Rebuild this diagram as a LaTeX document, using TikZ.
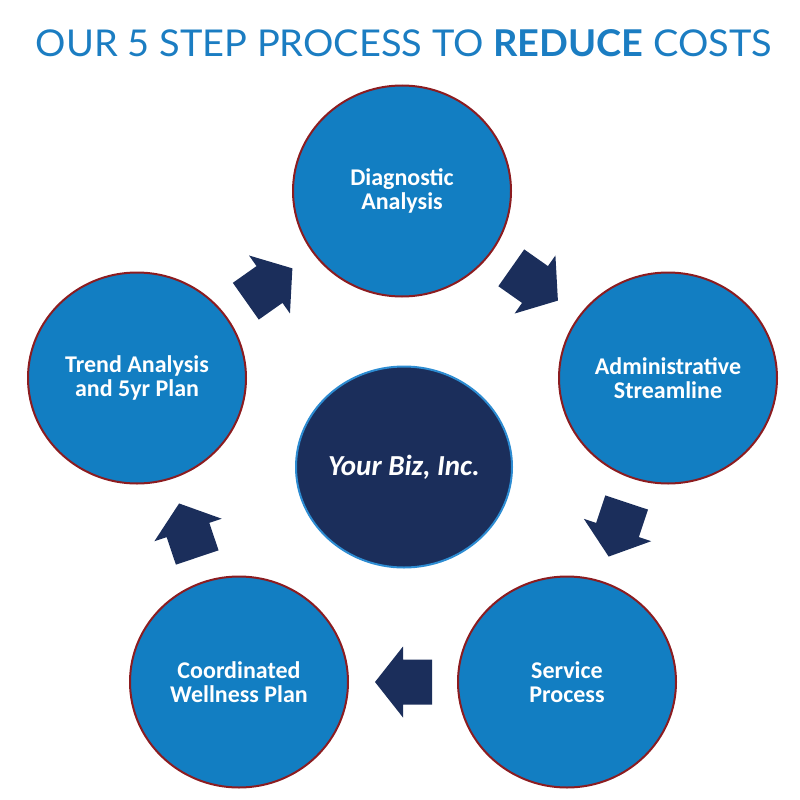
\documentclass[tikz,border=0pt]{standalone}
\usepackage{fontspec}
\setmainfont{Carlito}
\newfontfamily\titlefont{Lato}
\usetikzlibrary{shapes.geometric}
\definecolor{stepblue}{RGB}{18,126,194}
\definecolor{stepred}{RGB}{140,28,32}
\definecolor{navyfill}{RGB}{27,46,91}
\definecolor{titleblue}{RGB}{27,125,194}
\definecolor{ringblue}{RGB}{45,140,210}
\begin{document}
\begin{tikzpicture}[x=1pt,y=-1pt,
  stepcircle/.style={ellipse, fill=stepblue, draw=stepred, line width=2pt,
    minimum width=218pt, minimum height=211pt, inner sep=0pt, text=white,
    font=\bfseries\fontsize{24}{24}\selectfont, align=center},
  hub/.style={ellipse, fill=navyfill, draw=ringblue, line width=2pt,
    minimum width=216pt, minimum height=201pt, inner sep=0pt, text=white,
    font=\bfseries\itshape\fontsize{29}{29}\selectfont},
  pics/blockarrow/.style={code={\fill[navyfill] (-29,-22.5) -- (0,-22.5) -- (0,-35.5) -- (28,0) -- (0,35.5) -- (0,22.5) -- (-29,22.5) -- cycle;}},
  steparrow/.style={midway, sloped, allow upside down}
]
\useasboundingbox (0,0) rectangle (800,800);
\node[inner sep=0pt, text=titleblue] (title) at (404,43.5)
  {\resizebox{736pt}{27pt}{\titlefont OUR 5 STEP PROCESS TO \textbf{REDUCE} COSTS}};
\node[stepcircle] (diag) at (402,191) {Diagnostic\\Analysis};
\node[stepcircle] (admin) at (668,378) {Administrative\\Streamline};
\node[stepcircle] (service) at (567,682) {Service\\Process};
\node[stepcircle] (coord) at (239,682) {Coordinated\\Wellness Plan};
\node[stepcircle] (trend) at (137,378) {Trend Analysis\\and 5yr Plan};
\node[hub] (hubnode) at (404,467) {Your Biz, Inc.};
\path (trend) -- pic[steparrow]{blockarrow} (diag);
\path (diag) -- pic[steparrow]{blockarrow} (admin);
\path (admin) -- pic[steparrow]{blockarrow} (service);
\path (service) -- pic[steparrow]{blockarrow} (coord);
\path (coord) -- pic[steparrow]{blockarrow} (trend);
\end{tikzpicture}
\end{document}
